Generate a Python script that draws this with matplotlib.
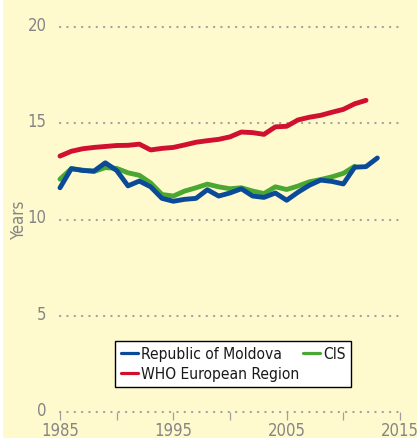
import matplotlib
matplotlib.use("Agg")
import matplotlib.pyplot as plt
from matplotlib import font_manager
from matplotlib.font_manager import FontProperties
from matplotlib.patches import Rectangle
from matplotlib.transforms import ScaledTranslation

# ---- data ----
years_moldova = list(range(1985, 2014))
moldova = [11.65, 12.65, 12.55, 12.52, 12.95, 12.55, 11.75, 12.0, 11.7, 11.1,
           10.95, 11.05, 11.1, 11.55, 11.22, 11.38, 11.6, 11.22, 11.15, 11.38,
           11.0, 11.42, 11.78, 12.05, 11.98, 11.85, 12.72, 12.75, 13.2]
years_cis = list(range(1985, 2012))
cis = [12.1, 12.64, 12.57, 12.5, 12.7, 12.66, 12.43, 12.3, 11.9, 11.3,
       11.22, 11.48, 11.65, 11.84, 11.7, 11.6, 11.65, 11.48, 11.35, 11.7,
       11.56, 11.74, 11.96, 12.08, 12.22, 12.4, 12.77]
years_who = list(range(1985, 2013))
who = [13.3, 13.55, 13.68, 13.75, 13.8, 13.85, 13.86, 13.92, 13.62, 13.7,
       13.75, 13.88, 14.02, 14.1, 14.17, 14.3, 14.55, 14.52, 14.43, 14.82,
       14.85, 15.18, 15.32, 15.42, 15.58, 15.73, 16.02, 16.2]
series_labels = ["Republic of Moldova", "CIS", "WHO European Region"]
x_ticks = [1985, 1990, 1995, 2000, 2005, 2010, 2015]
x_ticklabels = ["1985", "", "1995", "", "2005", "", "2015"]
y_ticks = [0, 5, 10, 15, 20]
y_label = "Years"

# ---- fonts: prefer a condensed face ----
cands = []
for f in font_manager.fontManager.ttflist:
    nm = f.name.lower()
    st = str(f.stretch).lower()
    if (("narrow" in nm or "condensed" in nm or "condensed" in st)
            and f.style == "normal" and f.weight in (400, "normal", "regular")
            and "mono" not in nm and "cjk" not in nm):
        cands.append(f)
cands.sort(key=lambda f: (0 if "liberation" in f.name.lower() else
                          1 if "dejavu" in f.name.lower() else 2))
if cands:
    fp_ticks = FontProperties(fname=cands[0].fname, size=12)
    fp_leg = FontProperties(fname=cands[0].fname, size=11.2)
else:
    fp_ticks = FontProperties(family=["Open Sans", "DejaVu Sans"], size=11.5)
    fp_leg = FontProperties(family=["Open Sans", "DejaVu Sans"], size=11)

bg = "#fffacd"
gray = "#858585"
c_blue = "#0b4a98"
c_green = "#4aa832"
c_red = "#d0102e"

W, H = 417, 439
fig = plt.figure(figsize=(W / 100, H / 100), dpi=100, facecolor="white")
fig.patches.append(Rectangle((3 / W, 0), 1 - 3 / W, 1, transform=fig.transFigure,
                             facecolor=bg, edgecolor="none", zorder=-10))

ax = fig.add_axes([60 / W, (H - 412.7) / H, 340 / W, 384.4 / H])
ax.set_facecolor("none")
ax.set_xlim(1985, 2015)
ax.set_ylim(0, 20)
for s in ax.spines.values():
    s.set_visible(False)

for yv in y_ticks:
    ax.axhline(yv, color="#a0a0a0", lw=1.6, linestyle=(0, (0.1, 3.2)),
               dash_capstyle="round", zorder=1, clip_on=False)

lw = 3.5
l_who, = ax.plot(years_who, who, color=c_red, lw=lw, solid_capstyle="round",
                 solid_joinstyle="round", zorder=3, clip_on=False, label=series_labels[2])
l_cis, = ax.plot(years_cis, cis, color=c_green, lw=lw, solid_capstyle="round",
                 solid_joinstyle="round", zorder=3, clip_on=False, label=series_labels[1])
l_mol, = ax.plot(years_moldova, moldova, color=c_blue, lw=lw, solid_capstyle="round",
                 solid_joinstyle="round", zorder=4, clip_on=False, label=series_labels[0])

ax.set_xticks(x_ticks)
ax.set_xticklabels(x_ticklabels)
ax.set_yticks(y_ticks)
ax.set_yticklabels([str(v) for v in y_ticks])
ax.tick_params(axis="x", length=5.8, width=0.9, color="#a0a0a0", pad=0.8,
               labelcolor=gray)
ax.tick_params(axis="y", length=0, pad=9.5, labelcolor=gray)
for lab in ax.get_xticklabels() + ax.get_yticklabels():
    lab.set_fontproperties(fp_ticks)
for lab in ax.get_yticklabels():
    lab.set_transform(lab.get_transform() + ScaledTranslation(0, 4 / 100, fig.dpi_scale_trans))

fig.text(19 / W, 1 - 219 / H, y_label, rotation=90, ha="center", va="center",
         fontproperties=fp_ticks, color=gray)

leg = ax.legend([l_mol, l_who, l_cis], [series_labels[0], series_labels[2], series_labels[1]],
                ncol=2, loc="center", bbox_to_anchor=(0.509, 0.1246),
                prop=fp_leg, handlelength=1.1, handletextpad=0.2, columnspacing=0.25,
                labelspacing=0.3, borderpad=0.35, borderaxespad=0, frameon=True,
                fancybox=False, facecolor="white", edgecolor="black", framealpha=1)
leg.get_frame().set_linewidth(1.0)
for ln in leg.get_lines():
    ln.set_linewidth(2.3)
for t in leg.get_texts():
    t.set_color("#1a1a1a")

fig.savefig("out.png", dpi=100, facecolor="white")
